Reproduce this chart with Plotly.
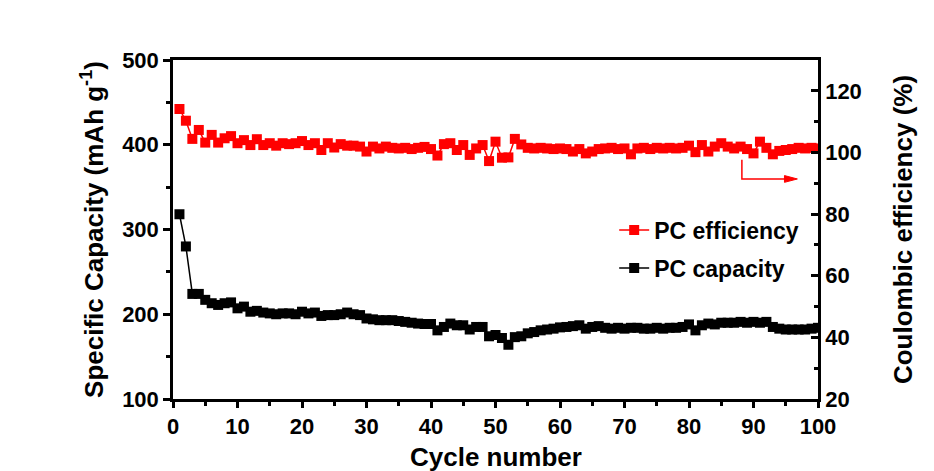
import plotly.graph_objects as go

cycles = list(range(1, 101))

pc_capacity = [318, 280, 224, 224, 217, 213, 211, 213, 214, 207,
               209, 203, 204, 202, 201, 200, 201, 201, 200, 203,
               201, 202, 198, 199, 199, 200, 202, 200, 199, 195,
               194, 193, 193, 193, 192, 191, 190, 189, 188.5, 188.5,
               181, 185, 189, 187, 187, 182, 185, 185, 174, 175.5,
               172, 164, 173, 174, 177.5, 179, 181, 182, 183, 184.5,
               185, 186, 187, 183, 185, 186, 184, 183, 184, 183,
               184, 184, 183, 183, 184, 183, 184, 184, 185, 188,
               181, 187, 189, 188, 190, 190, 190, 191, 190, 191,
               190, 191, 185, 183, 182, 182, 182, 182, 183, 184]

pc_efficiency = [114.1, 110.3, 104.4, 107.3, 103.2, 105.7, 103.2, 104.6, 105.3, 103.0,
                 104.0, 102.4, 104.3, 102.4, 103.0, 102.2, 103.0, 102.7, 103.0, 103.7,
                 102.4, 103.0, 100.8, 103.0, 101.6, 102.7, 102.2, 102.2, 101.9, 100.3,
                 101.9, 101.3, 101.9, 101.5, 101.3, 101.5, 101.1, 101.5, 101.8, 101.1,
                 99.0, 102.7, 103.0, 100.8, 102.4, 99.2, 101.3, 102.4, 97.2, 103.5,
                 98.3, 98.4, 104.4, 102.6, 101.5, 101.3, 101.5, 101.3, 101.1, 101.3,
                 101.1, 100.3, 101.1, 99.7, 100.3, 101.1, 101.3, 101.5, 101.1, 101.3,
                 99.4, 101.3, 101.5, 101.1, 101.5, 101.3, 101.5, 101.3, 101.5, 102.2,
                 100.1, 102.4, 100.3, 101.9, 103.0, 101.9, 101.3, 101.9, 101.1, 99.7,
                 103.5, 101.5, 99.4, 100.5, 100.8, 101.1, 101.5, 101.3, 101.5, 101.3]

x_title = "Cycle number"
FONT = "Liberation Sans, Arial, sans-serif"

fig = go.Figure()

fig.add_trace(go.Scatter(
    x=cycles, y=pc_efficiency, name="PC efficiency", yaxis="y2",
    mode="lines+markers",
    line=dict(color="#ff0000", width=1.5),
    marker=dict(symbol="square", size=10, color="#ff0000"),
    legend="legend",
))
fig.add_trace(go.Scatter(
    x=cycles, y=pc_capacity, name="PC capacity", yaxis="y",
    mode="lines+markers",
    line=dict(color="#000000", width=1.5),
    marker=dict(symbol="square", size=10, color="#000000"),
    legend="legend2",
))

# arrow pointing to the right axis (line + filled head)
fig.add_shape(type="path", xref="x", yref="y2",
              path="M 88.2 97.6 L 88.2 91.4 L 95.0 91.4",
              line=dict(color="#ff0000", width=1.5))
fig.add_shape(type="path", xref="x", yref="y2",
              path="M 96.8 91.4 L 94.8 92.5 L 94.8 90.3 Z",
              fillcolor="#ff0000", line=dict(color="#ff0000", width=1))

tickfont = dict(family=FONT, size=22, color="black", weight="bold")
titlefont = dict(family=FONT, size=26, color="black", weight="bold")

# x-axis title placed just below the tick labels
fig.add_annotation(text=x_title, xref="paper", yref="paper", x=0.5, y=-0.171,
                   xanchor="center", yanchor="middle", showarrow=False, font=titlefont)

fig.update_layout(
    width=926, height=463,
    margin=dict(l=165, r=116, t=52, b=72, autoexpand=False),
    paper_bgcolor="white", plot_bgcolor="white",
    showlegend=True,
    xaxis=dict(
        range=[0, 100], dtick=10, tick0=0,
        showline=True, linecolor="black", linewidth=2.5, mirror=True,
        ticks="outside", ticklen=6, tickwidth=2.5, tickcolor="black",
        minor=dict(dtick=5, ticks="outside", ticklen=4, tickwidth=2.5, tickcolor="black"),
        showgrid=False, zeroline=False,
        tickfont=tickfont,
    ),
    yaxis=dict(
        range=[100, 500], dtick=100, tick0=100,
        showline=True, linecolor="black", linewidth=2.5,
        ticks="outside", ticklen=7, tickwidth=2.5, tickcolor="black",
        minor=dict(dtick=50, ticks="outside", ticklen=4, tickwidth=2.5, tickcolor="black"),
        showgrid=False, zeroline=False,
        tickfont=tickfont,
        title=dict(text="Specific Capacity (mAh g<sup>-1</sup>)", font=titlefont, standoff=12),
    ),
    yaxis2=dict(
        range=[20, 130], dtick=20, tick0=20,
        overlaying="y", side="right",
        showline=True, linecolor="black", linewidth=2.5,
        ticks="inside", ticklen=7, tickwidth=2.5, tickcolor="black",
        minor=dict(dtick=10, ticks="inside", ticklen=4, tickwidth=2.5, tickcolor="black"),
        showgrid=False, zeroline=False,
        tickfont=tickfont,
        title=dict(text="Coulombic efficiency (%)", font=titlefont, standoff=33),
    ),
    legend=dict(x=0.684, y=0.4985, xanchor="left", yanchor="middle",
                bgcolor="rgba(0,0,0,0)", borderwidth=0,
                font=dict(family=FONT, size=23, color="black", weight="bold")),
    legend2=dict(x=0.684, y=0.386, xanchor="left", yanchor="middle",
                 bgcolor="rgba(0,0,0,0)", borderwidth=0,
                 font=dict(family=FONT, size=23, color="black", weight="bold")),
)

fig.write_html("out.html")
